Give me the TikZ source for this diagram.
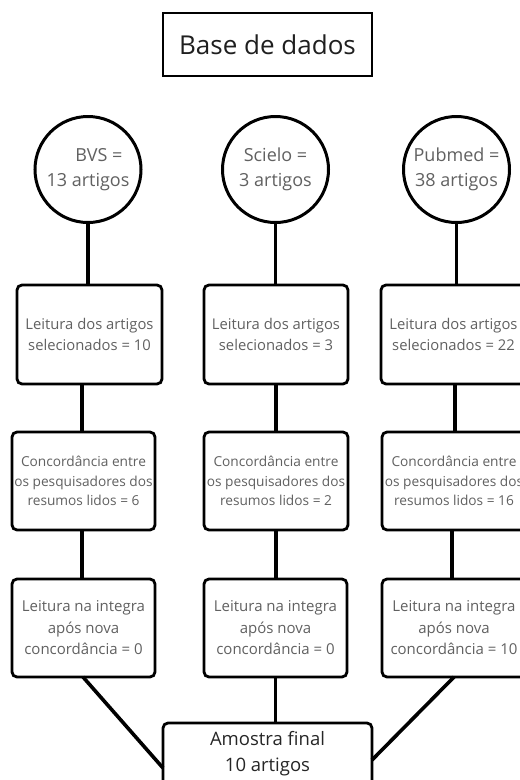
\documentclass[tikz,border=0pt]{standalone}
\usepackage{fontspec}
\setmainfont{Open Sans}
\begin{document}
\begin{tikzpicture}[x=1pt,y=-1pt,
  box/.style={draw=black,line width=2.8pt,rounded corners=5pt,fill=white,align=center,inner sep=0pt},
  smalltxt/.style={font=\fontsize{13.7}{19.5}\selectfont,text=black!62},
  midtxt/.style={font=\fontsize{15}{21.5}\selectfont,text=black!62},
  circ/.style={draw=black,line width=3pt,circle,minimum size=106pt,inner sep=0pt,align=center,font=\fontsize{18}{25}\selectfont,text=black!62},
  link/.style={line width=3.6pt}]
\useasboundingbox (0,0) rectangle (520,780);
\clip (0,0) rectangle (520,780);
\fill[white] (0,0) rectangle (520,780);
% title
\node[draw=black,line width=2.8pt,minimum width=209pt,minimum height=63pt,inner sep=0pt,font=\fontsize{26}{30}\selectfont,text=black!88] (title) at (267.5,44.5) {Base de dados};
% circles
\node[circ] (c1) at (88,169.5) {\hspace*{22pt}BVS =\\13 artigos};
\node[circ] (c2) at (275.5,169.5) {Scielo =\\3 artigos};
\node[circ] (c3) at (456.5,169.5) {Pubmed =\\38 artigos};
% row 1
\node[box,smalltxt,font=\fontsize{14.8}{21}\selectfont,minimum width=145pt,minimum height=99pt] (a1) at (89.5,334.5) {Leitura dos artigos\\selecionados = 10};
\node[box,smalltxt,font=\fontsize{14.8}{21}\selectfont,minimum width=144pt,minimum height=99pt] (a2) at (276,334.5) {Leitura dos artigos\\selecionados = 3};
\node[box,smalltxt,font=\fontsize{14.8}{21}\selectfont,minimum width=145pt,minimum height=99pt] (a3) at (453.5,334.5) {Leitura dos artigos\\selecionados = 22};
% row 2
\node[box,smalltxt,minimum width=143pt,minimum height=98pt] (b1) at (83.5,481) {Concordância entre\\os pesquisadores dos\\resumos lidos = 6};
\node[box,smalltxt,minimum width=144pt,minimum height=98pt] (b2) at (276,481) {Concordância entre\\os pesquisadores dos\\resumos lidos = 2};
\node[box,smalltxt,minimum width=144pt,minimum height=98pt] (b3) at (454,481) {Concordância entre\\os pesquisadores dos\\resumos lidos = 16};
% row 3
\node[box,midtxt,minimum width=143pt,minimum height=98pt] (d1) at (83.5,628) {Leitura na integra\\após nova\\concordância = 0};
\node[box,midtxt,minimum width=143pt,minimum height=98pt] (d2) at (275.5,628) {Leitura na integra\\após nova\\concordância = 0};
\node[box,midtxt,minimum width=144pt,minimum height=98pt] (d3) at (454,628) {Leitura na integra\\após nova\\concordância = 10};
% final
\node[box,minimum width=209pt,minimum height=70pt] (f) at (267.5,758) {};
\node[font=\fontsize{18.5}{26}\selectfont,text=black!85,align=center,anchor=north] (ftxt) at (267.5,728) {Amostra final\\10 artigos};
% connectors
\draw[link] (c1.south) -- (c1.south |- a1.north);
\draw[link] (c2.south) -- (c2.south |- a2.north);
\draw[link] (c3.south) -- (c3.south |- a3.north);
\draw[link] (82,384) coordinate (p1) -- (p1 |- b1.north);
\draw[link] (a2.south) -- (a2.south |- b2.north);
\draw[link] (455,384) coordinate (p3) -- (p3 |- b3.north);
\draw[link] (82,530) coordinate (q1) -- (q1 |- d1.north);
\draw[link] (b2.south) -- (b2.south |- d2.north);
\draw[link] (452,530) coordinate (q3) -- (q3 |- d3.north);
\coordinate (fl) at (163,768);
\coordinate (fr) at (372,760);
\draw[link] (83,677) coordinate (r1) -- (fl);
\draw[link] (d2.south) -- (d2.south |- f.north);
\draw[link] (454,677) coordinate (r3) -- (fr);
\end{tikzpicture}
\end{document}
